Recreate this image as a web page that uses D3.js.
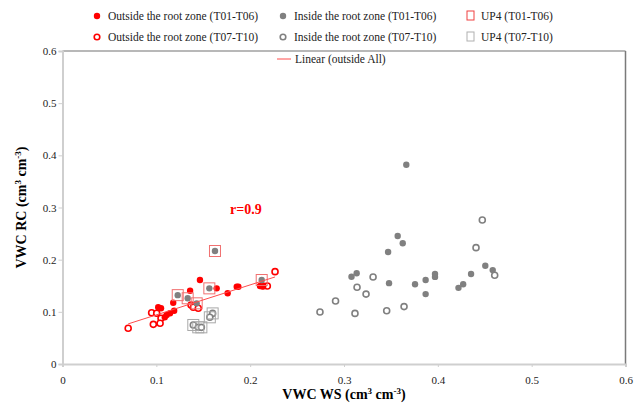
<!DOCTYPE html>
<html>
<head>
<meta charset="utf-8">
<script src="https://cdn.jsdelivr.net/npm/d3@7"></script>
<style>
  body { margin: 0; background: #fff; }
  svg, svg text { font-family: "Liberation Serif", "Times New Roman", serif; }
</style>
</head>
<body>
<svg></svg>
<script>
// [VWC WS, VWC RC] pairs
const outsideEarly = [
  [0.118, 0.1175], [0.102, 0.1087], [0.105, 0.1068], [0.111, 0.094],
  [0.1146, 0.0972], [0.119, 0.102], [0.109, 0.0895], [0.136, 0.1405],
  [0.1465, 0.161], [0.1643, 0.145], [0.176, 0.1355], [0.1857, 0.148],
  [0.1874, 0.148], [0.2105, 0.1495], [0.214, 0.1495]
];
const outsideLate = [
  [0.070, 0.0684], [0.095, 0.0983], [0.1004, 0.0972], [0.105, 0.0876],
  [0.104, 0.078], [0.0968, 0.076], [0.137, 0.113], [0.1394, 0.1087],
  [0.1447, 0.1068], [0.2134, 0.1495], [0.2183, 0.1495], [0.2265, 0.177]
];
const insideEarly = [
  [0.3664, 0.382], [0.3572, 0.2454], [0.3626, 0.2314], [0.347, 0.2147],
  [0.308, 0.1673], [0.3135, 0.1739], [0.348, 0.155], [0.3757, 0.153],
  [0.387, 0.161], [0.387, 0.134], [0.397, 0.1725], [0.397, 0.167],
  [0.422, 0.146], [0.427, 0.153], [0.4354, 0.1725], [0.4506, 0.1884],
  [0.4585, 0.180]
];
const insideLate = [
  [0.2744, 0.0997], [0.291, 0.1208], [0.3117, 0.097], [0.3139, 0.147],
  [0.3235, 0.134], [0.331, 0.1668], [0.3455, 0.102], [0.364, 0.110],
  [0.4474, 0.276], [0.4407, 0.223], [0.4606, 0.170]
];
// UP4 plots (inside the root zone, marked with a square)
const up4Early = [
  [0.1625, 0.2166], [0.1565, 0.145], [0.1228, 0.132], [0.1334, 0.126],
  [0.143, 0.1163], [0.2123, 0.161]
];
const up4Late = [
  [0.160, 0.097], [0.157, 0.0895], [0.1394, 0.0748], [0.1447, 0.0703],
  [0.148, 0.0703]
];
const ticks = [0, 0.1, 0.2, 0.3, 0.4, 0.5, 0.6];
const rLabel = 'r=0.9';

const size = {w: 641, h: 407};
const plot = {l: 62.5, r: 625.5, t: 51, b: 364};
const red = '#ff0000', gray = '#808080';

const svg = d3.select('svg')
    .attr('width', size.w)
    .attr('height', size.h);

const x = d3.scaleLinear().domain([0, 0.6]).range([plot.l, plot.r]);
const y = d3.scaleLinear().domain([0, 0.6]).range([plot.b, plot.t]);

// frame: top and right darker, left and bottom light
svg.append('line')
    .attr('x1', plot.l).attr('x2', plot.r)
    .attr('y1', plot.t).attr('y2', plot.t)
    .attr('stroke', '#a0a0a0').attr('stroke-width', 1.5);
svg.append('line')
    .attr('x1', plot.r).attr('x2', plot.r)
    .attr('y1', plot.t).attr('y2', plot.b)
    .attr('stroke', '#7a7a7a').attr('stroke-width', 1.5);

// axes
let xAxis = svg.append('g')
    .attr('transform', `translate(0,${plot.b})`)
    .call(d3.axisBottom(x).tickValues(ticks).tickSize(3).tickFormat(d3.format('')));
let yAxis = svg.append('g')
    .attr('transform', `translate(${plot.l},0)`)
    .call(d3.axisLeft(y).tickValues(ticks).tickSize(4).tickFormat(d3.format('')));

[xAxis, yAxis].forEach(a => {
    a.attr('font-family', null);
    a.select('.domain').attr('stroke', '#cfcfcf').attr('stroke-width', 2);
    a.selectAll('.tick line').attr('stroke', '#cfcfcf').attr('stroke-width', 1);
    a.selectAll('.tick text')
        .style('font-family', '"Liberation Serif", serif')
        .style('font-size', '11px')
        .attr('fill', '#222');
});
xAxis.selectAll('.tick text').attr('dy', '1.25em');
yAxis.selectAll('.tick text').attr('x', -6);

// axis titles
let xTitle = svg.append('text')
    .attr('x', (plot.l + plot.r) / 2)
    .attr('y', 399)
    .attr('text-anchor', 'middle')
    .attr('font-weight', 'bold')
    .attr('font-size', 14);
xTitle.append('tspan').text('VWC WS (cm');
xTitle.append('tspan').attr('font-size', 9).attr('dy', -5).text('3');
xTitle.append('tspan').attr('dy', 5).text(' cm');
xTitle.append('tspan').attr('font-size', 9).attr('dy', -5).text('-3');
xTitle.append('tspan').attr('dy', 5).text(')');

let yTitle = svg.append('text')
    .attr('transform', `translate(26,${(plot.t + plot.b) / 2}) rotate(-90)`)
    .attr('text-anchor', 'middle')
    .attr('font-weight', 'bold')
    .attr('font-size', 14);
yTitle.append('tspan').text('VWC RC (cm');
yTitle.append('tspan').attr('font-size', 9).attr('dy', -5).text('3');
yTitle.append('tspan').attr('dy', 5).text(' cm');
yTitle.append('tspan').attr('font-size', 9).attr('dy', -5).text('-3');
yTitle.append('tspan').attr('dy', 5).text(')');

// --------- POINTS ----------
const pointsG = svg.append('g').classed('points', true);

function drawCircles(data, filled, color) {
    pointsG.append('g')
        .selectAll('circle')
        .data(data)
        .join('circle')
        .attr('cx', d => x(d[0]))
        .attr('cy', d => y(d[1]))
        .attr('r', filled ? 3.2 : 3)
        .attr('fill', filled ? color : '#fff')
        .attr('stroke', color)
        .attr('stroke-width', filled ? 0 : 1.6);
}

function drawSquares(data, color) {
    pointsG.append('g')
        .selectAll('rect')
        .data(data)
        .join('rect')
        .attr('x', d => x(d[0]) - 5.5)
        .attr('y', d => y(d[1]) - 5.5)
        .attr('width', 11)
        .attr('height', 11)
        .attr('fill', 'none')
        .attr('stroke', color)
        .attr('stroke-width', 1);
}

drawCircles(insideLate, false, gray);
drawCircles(up4Late, false, gray);
drawCircles(insideEarly, true, gray);
drawCircles(outsideLate, false, red);
drawCircles(outsideEarly, true, red);
drawCircles(up4Early, true, gray);
drawSquares(up4Early, '#f07070');
drawSquares(up4Late, '#a8a8a8');

// --------- TREND LINE (outside, all dates) ----------
const outsideAll = outsideEarly.concat(outsideLate);
const mx = d3.mean(outsideAll, d => d[0]);
const my = d3.mean(outsideAll, d => d[1]);
const slope = d3.sum(outsideAll, d => (d[0] - mx) * (d[1] - my)) /
    d3.sum(outsideAll, d => (d[0] - mx) ** 2);
const ext = d3.extent(outsideAll, d => d[0]);
svg.append('line')
    .attr('x1', x(ext[0])).attr('y1', y(my + slope * (ext[0] - mx)))
    .attr('x2', x(ext[1])).attr('y2', y(my + slope * (ext[1] - mx)))
    .attr('stroke', '#ff4d4d')
    .attr('stroke-width', 1);

svg.append('text')
    .attr('x', 230)
    .attr('y', 214)
    .attr('font-weight', 'bold')
    .attr('font-size', 14)
    .attr('fill', red)
    .text(rLabel);

// --------- LEGEND ----------
const legendItems = [
    {label: 'Outside the root zone (T01-T06)', kind: 'dot', color: red, col: 0, row: 0},
    {label: 'Inside the root zone (T01-T06)', kind: 'dot', color: gray, col: 1, row: 0},
    {label: 'UP4 (T01-T06)', kind: 'square', color: '#f04040', col: 2, row: 0},
    {label: 'Outside the root zone (T07-T10)', kind: 'ring', color: red, col: 0, row: 1},
    {label: 'Inside the root zone (T07-T10)', kind: 'ring', color: gray, col: 1, row: 1},
    {label: 'UP4 (T07-T10)', kind: 'square', color: '#b0b0b0', col: 2, row: 1}
];
const colX = [97, 283, 470];
const rowY = [16, 37];

const legendG = svg.append('g').classed('legend', true);
legendItems.forEach(d => {
    let g = legendG.append('g')
        .attr('transform', `translate(${colX[d.col]},${rowY[d.row]})`);
    if (d.kind === 'square') {
        g.append('rect')
            .attr('x', -3).attr('y', -5)
            .attr('width', 7).attr('height', 9)
            .attr('fill', 'none')
            .attr('stroke', d.color)
            .attr('stroke-width', 1);
    } else {
        g.append('circle')
            .attr('r', d.kind === 'dot' ? 3.2 : 2.8)
            .attr('fill', d.kind === 'dot' ? d.color : '#fff')
            .attr('stroke', d.color)
            .attr('stroke-width', d.kind === 'dot' ? 0 : 1.6);
    }
    g.append('text')
        .attr('x', 11)
        .attr('y', 4)
        .attr('font-size', 11.5)
        .attr('fill', '#222')
        .text(d.label);
});

let linG = legendG.append('g').attr('transform', 'translate(277,59)');
linG.append('line')
    .attr('x1', 0).attr('x2', 14)
    .attr('stroke', '#ff4d4d').attr('stroke-width', 1);
linG.append('text')
    .attr('x', 18).attr('y', 4)
    .attr('font-size', 11.5)
    .attr('fill', '#222')
    .text('Linear (outside All)');
</script>
</body>
</html>
